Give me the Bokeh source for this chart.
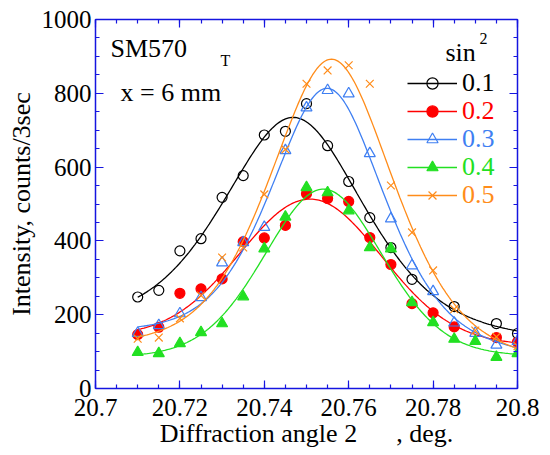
import numpy as np
from bokeh.plotting import figure
from bokeh.models import Range1d, LinearAxis, FixedTicker, Label, Legend, LegendItem
from bokeh.embed import file_html
from bokeh.resources import INLINE

# Diffraction angle 2-theta (deg) of each measured step
two_theta = [20.71, 20.715, 20.72, 20.725, 20.73, 20.735, 20.74, 20.745, 20.75, 20.755,
             20.76, 20.765, 20.77, 20.775, 20.78, 20.785, 20.79, 20.795, 20.8]

nan = float("nan")
# Intensity (counts / 3 s) for each sin^2(psi) tilt
int_01 = [248, 266, 373, 406, 518, 577, 687, 697, 772, 658, 561, 463, 382, 296, nan, 222, nan, 176, 149]
int_02 = [146, 166, 258, 270, 297, 398, 408, 442, 528, 515, 507, 409, 336, 230, 205, 167, nan, 138, 126]
int_03 = [150, 171, 203, 247, 341, 396, 437, 645, 761, 808, 799, 637, 460, 333, 263, 178, 150, 118, 128]
int_04 = [98, 95, 122, 152, 176, 249, 379, 465, 545, 531, 482, 382, 379, 233, 179, 134, 128, 85, 95]
int_05 = [135, 138, 190, 252, 355, 382, 526, 648, 826, 862, 876, 826, 550, 423, 320, 215, 157, 140, 115]

sin2_labels = ["0.1", "0.2", "0.3", "0.4", "0.5"]
x_tick_values = [20.7, 20.72, 20.74, 20.76, 20.78, 20.8]
x_tick_labels = ["20.7", "20.72", "20.74", "20.76", "20.78", "20.8"]
y_tick_values = [0, 200, 400, 600, 800, 1000]

FONT = "Liberation Serif"
AXIS_BLUE = "#1515e0"
colors = ["#000000", "#ff0000", "#3f7ff2", "#22e022", "#ff8c1a"]


def fit_profile(x, y):
    """Counting-statistics weighted least-squares pseudo-Voigt peak on a linear background."""
    x = np.asarray(x, float)
    y = np.asarray(y, float)
    ok = ~np.isnan(y)
    x, y = x[ok], y[ok]
    wt = 1.0 / np.sqrt(y)
    best = None
    for c in np.arange(20.735, 20.765, 0.0005):
        for w in np.arange(0.012, 0.05, 0.0005):
            u = ((x - c) / w) ** 2
            g = np.exp(-4 * np.log(2) * u)
            l = 1.0 / (1.0 + 4 * u)
            for eta in np.linspace(0, 0.5, 6):
                prof = eta * l + (1 - eta) * g
                A = np.column_stack([prof, np.ones_like(x), x - 20.75])
                coef, *_ = np.linalg.lstsq(A * wt[:, None], y * wt, rcond=None)
                r = np.sum(((A @ coef - y) * wt) ** 2)
                if best is None or r < best[0]:
                    best = (r, c, w, eta, coef)
    _, c, w, eta, coef = best

    def f(xx):
        u = ((xx - c) / w) ** 2
        prof = eta / (1 + 4 * u) + (1 - eta) * np.exp(-4 * np.log(2) * u)
        return coef[0] * prof + coef[1] + coef[2] * (xx - 20.75)
    return f


p = figure(width=550, height=455, output_backend="svg", toolbar_location=None,
           x_range=Range1d(20.7, 20.8), y_range=Range1d(0, 1000),
           min_border_left=95, min_border_right=33, min_border_top=19, min_border_bottom=67,
           background_fill_color="white", border_fill_color="white")
p.grid.visible = False
p.outline_line_color = None

x_ticker = FixedTicker(ticks=x_tick_values,
                       minor_ticks=list(np.round(np.arange(20.7, 20.8001, 0.005), 3)))
y_ticker = FixedTicker(ticks=y_tick_values, minor_ticks=list(range(0, 1001, 50)))


def style_axis(ax, show_labels):
    ax.axis_line_color = AXIS_BLUE
    ax.axis_line_width = 1.5
    ax.major_tick_line_color = AXIS_BLUE
    ax.minor_tick_line_color = AXIS_BLUE
    ax.major_tick_line_width = 1.2
    ax.minor_tick_line_width = 1.2
    ax.major_tick_in = 8
    ax.major_tick_out = 0
    ax.minor_tick_in = 4
    ax.minor_tick_out = 0
    if show_labels:
        ax.major_label_text_font = FONT
        ax.major_label_text_font_size = "25px"
        ax.major_label_text_color = "black"
        ax.axis_label_text_font = FONT
        ax.axis_label_text_font_size = "26px"
        ax.axis_label_text_font_style = "normal"
        ax.axis_label_text_color = "black"
    else:
        # frame-only axis: ticks drawn, labels suppressed
        ax.major_label_text_font_size = "1px"
        ax.major_label_text_color = None
        ax.major_label_standoff = 0


xa = p.xaxis[0]
xa.ticker = x_ticker
xa.major_label_overrides = dict(zip(x_tick_values, x_tick_labels))
xa.axis_label = "Diffraction angle 2\u00a0\u00a0\u00a0\u00a0\u00a0\u00a0, deg."
xa.major_label_standoff = 10
xa.axis_label_standoff = 0
style_axis(xa, True)

ya = p.yaxis[0]
ya.ticker = y_ticker
ya.axis_label = "Intensity, counts/3sec"
ya.major_label_standoff = 4
ya.axis_label_standoff = 3
style_axis(ya, True)

top = LinearAxis(ticker=x_ticker)
style_axis(top, False)
p.add_layout(top, "above")
right = LinearAxis(ticker=y_ticker)
style_axis(right, False)
p.add_layout(right, "right")

series = [int_01, int_02, int_03, int_04, int_05]
markers = [
    dict(marker="circle", size=10, fill_color=None),
    dict(marker="circle", size=10, fill_color="#ff0000"),
    dict(marker="triangle", size=11, fill_color=None),
    dict(marker="triangle", size=11, fill_color="#22e022"),
    dict(marker="x", size=11, fill_color=None),
]

xs_fit = np.linspace(two_theta[0], two_theta[-1], 240)
legend_rows = []
for vals, col, mk in zip(series, colors, markers):
    f = fit_profile(two_theta, vals)
    lr = p.line(xs_fit, f(xs_fit), line_color=col, line_width=1.3)
    sr = p.scatter(two_theta, vals, marker=mk["marker"], size=mk["size"],
                   line_color=col, fill_color=mk["fill_color"], line_width=1.2)
    legend_rows.append((lr, sr))

# one legend box per row so that each label carries its series colour
for i, (lab, col, (lr, sr)) in enumerate(zip(sin2_labels, colors, legend_rows)):
    leg = Legend(items=[LegendItem(label=lab, renderers=[lr, sr])],
                 location=(312, 290 - 28 * i), orientation="vertical",
                 background_fill_alpha=0, border_line_alpha=0, padding=0, margin=0,
                 spacing=0, glyph_width=50, glyph_height=28, label_height=28,
                 label_standoff=5, label_text_color=col, label_text_font=FONT,
                 label_text_font_size="26px")
    p.add_layout(leg)


def add_text(x, y, text, size, align="left"):
    p.add_layout(Label(x=x, y=y, x_units="screen", y_units="screen", text=text,
                       text_font=FONT, text_font_size=size, text_color="black",
                       text_baseline="alphabetic", text_align=align))


add_text(15, 340, "SM570", "26px")
add_text(125, 328, "T", "16px")
add_text(25, 296, "x = 6 mm", "26px")
add_text(350, 336, "sin", "26px")
add_text(384, 350, "2", "16px")

open("out.html", "w").write(file_html(p, INLINE))
